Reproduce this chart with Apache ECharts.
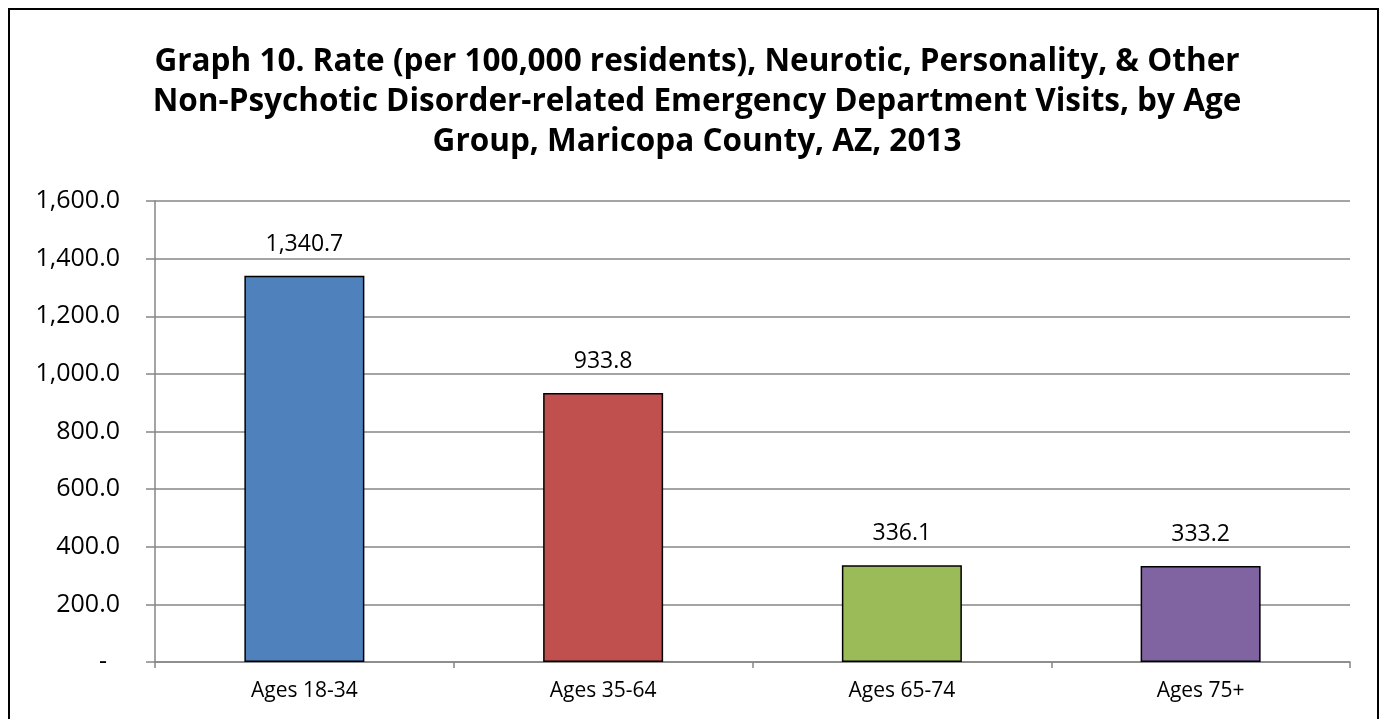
<!DOCTYPE html>
<html>
<head>
<meta charset="utf-8">
<script src="https://cdn.jsdelivr.net/npm/echarts@6/dist/echarts.min.js"></script>
<style>
html, body { margin: 0; padding: 0; background: #fff; }
#chart { width: 1383px; height: 719px; }
</style>
</head>
<body>
<div id="chart"></div>
<script>
// 数据
var categories = ['Ages 18-34', 'Ages 35-64', 'Ages 65-74', 'Ages 75+'];
var rates = [1340.7, 933.8, 336.1, 333.2];
var barColors = ['#4F81BD', '#C0504D', '#9BBB59', '#8064A2'];
var titleText = 'Graph 10. Rate (per 100,000 residents), Neurotic, Personality, & Other\n' +
    'Non-Psychotic Disorder-related Emergency Department Visits, by Age\n' +
    'Group, Maricopa County, AZ, 2013';

function fmt(v) {
    return v.toLocaleString('en-US', { minimumFractionDigits: 1, maximumFractionDigits: 1 });
}

var chart = echarts.init(document.getElementById('chart'));
var fontFam = '"Open Sans", "Liberation Sans", sans-serif';

chart.setOption({
    animation: false,
    graphic: [{
        type: 'rect',
        shape: { x: 9, y: 9, width: 1369, height: 720 },
        style: { fill: 'none', stroke: '#000', lineWidth: 2 },
        silent: true
    }],
    title: {
        text: titleText,
        left: 692,
        top: 37,
        textAlign: 'center',
        textStyle: {
            fontFamily: fontFam,
            fontWeight: 'bold',
            fontSize: 31.5,
            lineHeight: 40,
            color: '#000'
        }
    },
    grid: {
        left: 155,
        right: 33,
        top: 201,
        bottom: 57,
        containLabel: false
    },
    xAxis: {
        type: 'category',
        data: categories,
        axisLine: { lineStyle: { color: '#868686', width: 1.5 } },
        axisTick: { show: true, length: 6, lineStyle: { color: '#868686', width: 1.5 } },
        axisLabel: {
            margin: 19,
            fontFamily: fontFam,
            fontSize: 21,
            color: '#000'
        }
    },
    yAxis: {
        type: 'value',
        min: 0,
        max: 1600,
        interval: 200,
        axisLine: { show: true, lineStyle: { color: '#868686', width: 1.5 } },
        axisTick: { show: true, length: 9, lineStyle: { color: '#868686', width: 1.5 } },
        splitLine: { show: true, lineStyle: { color: '#868686', width: 1.5 } },
        axisLabel: {
            margin: 35,
            fontFamily: fontFam,
            fontSize: 25,
            color: '#000',
            formatter: function (v) {
                if (v === 0) return '-  ';
                return fmt(v);
            }
        }
    },
    series: [{
        type: 'bar',
        barWidth: 120,
        data: rates.map(function (v, i) {
            return {
                value: v,
                itemStyle: { color: barColors[i], borderColor: '#000', borderWidth: 1.5 }
            };
        }),
        label: {
            show: true,
            position: 'top',
            distance: 20,
            fontFamily: fontFam,
            fontSize: 23,
            color: '#000',
            formatter: function (p) { return fmt(p.value); }
        }
    }]
});
</script>
</body>
</html>
